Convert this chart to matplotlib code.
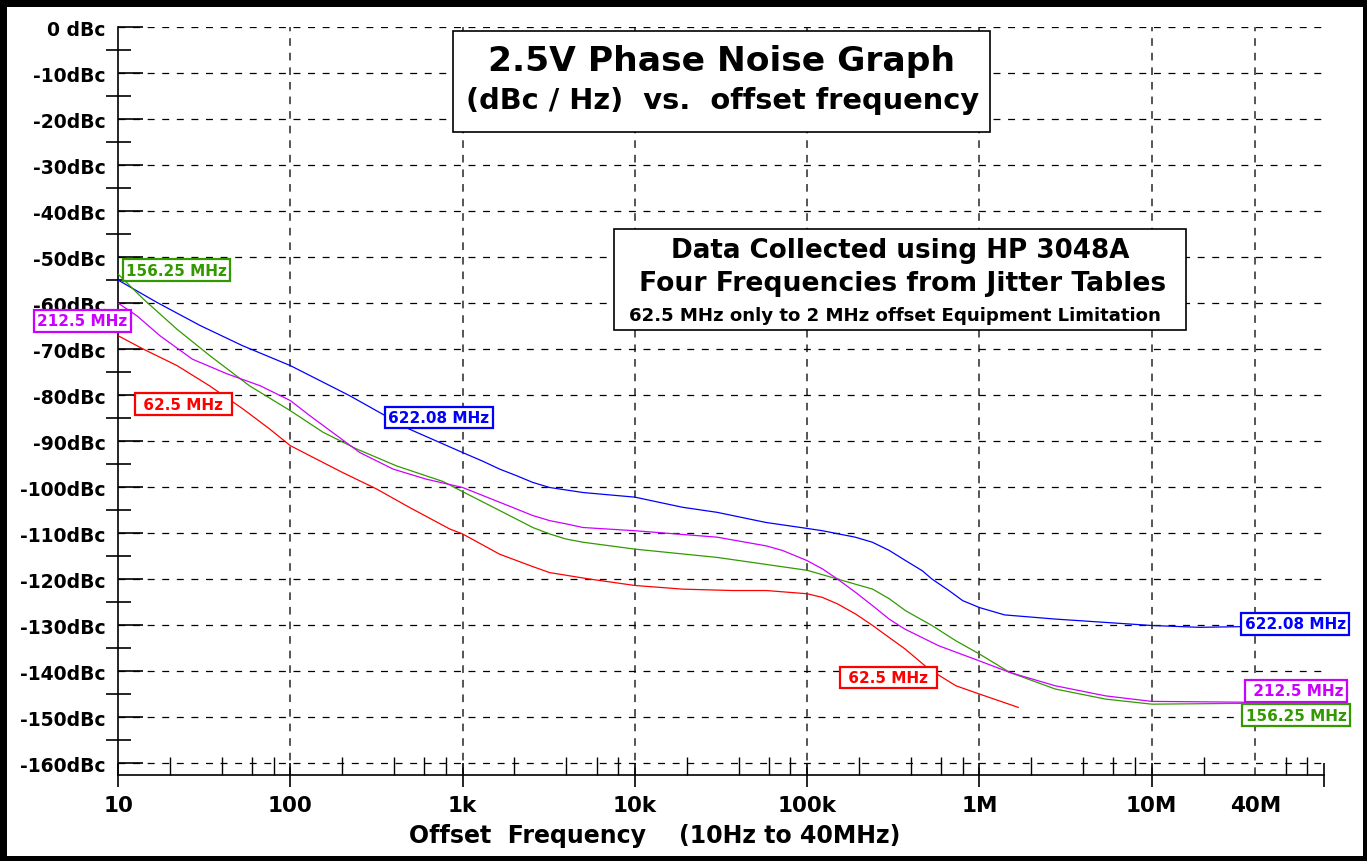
import numpy as np
import matplotlib
matplotlib.use("Agg")
import matplotlib.pyplot as plt
from matplotlib.patches import Rectangle
from matplotlib.ticker import NullFormatter

plt.rcParams['font.family'] = ['DejaVu Sans']
plt.rcParams['lines.scale_dashes'] = False

# =========================================================
# Data
# =========================================================
f_622 = [10, 16.7, 30, 53, 100, 220, 490, 1000, 1312, 1640, 2046, 2556, 3200, 5012, 10000,
         18900, 30000, 57600, 100000, 122700, 190000, 239000, 300000, 373000, 466000, 530000,
         665000, 800000, 1e6, 1.4e6, 2.75e6, 1e7, 1.9e7, 4e7]
db_622 = [-55.0, -59.8, -64.9, -69.3, -73.6, -80.1, -87.4, -92.5, -94.4, -96.1, -97.5, -99.0,
          -100.1, -101.2, -102.2, -104.4, -105.5, -107.7, -109.0, -109.5, -110.9, -112.0, -113.8,
          -116.0, -118.2, -120.0, -122.5, -124.7, -126.2, -127.8, -128.7, -130.1, -130.5, -130.3]

f_62 = [10, 14, 22, 34, 53, 76, 100, 130, 200, 316, 490, 840, 1000, 1640, 2556, 3200, 5450,
        10000, 19000, 37000, 58000, 100000, 122700, 150000, 191000, 240000, 299000, 370000,
        510000, 730000, 1e6, 1.68e6]
db_62 = [-67.1, -70.0, -73.6, -78.0, -83.0, -87.4, -91.0, -93.2, -96.8, -100.4, -104.4, -109.1,
         -110.2, -114.6, -117.3, -118.6, -120.0, -121.4, -122.2, -122.5, -122.5, -123.2, -124.0,
         -125.4, -127.6, -130.1, -132.7, -135.2, -139.6, -143.2, -145.0, -147.9]

f_156 = [10, 14, 22, 34, 58, 100, 155, 242, 413, 770, 1000, 1640, 2556, 3200, 3980, 5000, 10000,
         30000, 100000, 150000, 240000, 300000, 373000, 530000, 728000, 1e6, 1.5e6, 2.75e6,
         5.4e6, 1e7, 4e7]
db_156 = [-53.7, -59.1, -65.7, -71.4, -78.0, -83.4, -88.1, -91.7, -95.4, -98.8, -101.0, -105.1,
          -108.8, -110.2, -111.3, -112.0, -113.5, -115.3, -118.1, -120.0, -122.2, -124.3, -126.9,
          -130.1, -133.4, -136.3, -140.3, -143.9, -146.1, -147.2, -147.0]

f_212 = [10, 12.9, 17.5, 27, 43, 67, 100, 130, 186, 253, 395, 617, 1000, 1640, 2556, 3200, 3980,
         5000, 10000, 30000, 58000, 72000, 100000, 122700, 150000, 191000, 240000, 299000,
         370000, 580000, 1e6, 1.5e6, 2.75e6, 5.4e6, 1e7, 4e7]
db_212 = [-60.0, -62.8, -67.1, -72.2, -75.4, -78.0, -81.2, -84.5, -88.8, -92.5, -96.1, -98.3,
          -100.1, -103.3, -106.2, -107.3, -108.0, -108.8, -109.5, -110.9, -112.8, -113.8, -116.0,
          -117.8, -120.0, -122.9, -125.8, -128.7, -130.9, -134.5, -137.8, -140.3, -143.2, -145.4,
          -146.6, -146.8]

x_major = [10, 100, 1e3, 1e4, 1e5, 1e6, 1e7, 1e8]
x_major_labels = ["10", "100", "1k", "10k", "100k", "1M", "10M", ""]
x_extra = 4e7
x_extra_label = "40M"
x_grid = [100, 1e3, 1e4, 1e5, 1e6, 1e7, 4e7]
y_major = list(range(-160, 1, 10))
y_major_labels = ["0 dBc" if v == 0 else f"{v}dBc" for v in y_major]

C_BLUE = "#0000ff"
C_RED = "#ff0000"
C_GREEN = "#339900"
C_MAG = "#cc00ff"

# =========================================================
# Figure
# =========================================================
W, H = 1367, 862
fig = plt.figure(figsize=(W / 100, H / 100), dpi=100)
fig.patch.set_facecolor("white")


def fx(px):
    return px / W


def fy(py):
    return 1 - py / H


ax = fig.add_axes([fx(118), fy(776), fx(1324) - fx(118), fy(28) - fy(776)])
ax.set_xscale("log")
ax.set_xlim(10, 1e8)
ax.set_ylim(-162.6, 0)

for s in ["top", "right"]:
    ax.spines[s].set_visible(False)
for s in ["left", "bottom"]:
    ax.spines[s].set_linewidth(1.2)

ax.set_yticks(y_major, labels=y_major_labels, fontsize=13.5, fontweight="bold")
ax.set_yticks(list(range(-155, 0, 10)), minor=True)
ax.tick_params(axis="y", which="major", direction="in", length=18, width=1.2, pad=9)
ax.tick_params(axis="y", which="minor", direction="inout", length=18, width=1.2)

x_minor = [m * 10 ** k for k in range(1, 8) for m in (2, 4, 6, 8) if m * 10 ** k != 4e7]
ax.set_xticks(x_major, labels=x_major_labels, fontsize=15.5, fontweight="bold")
ax.set_xticks(x_minor, minor=True)
ax.xaxis.set_minor_formatter(NullFormatter())
ax.tick_params(axis="x", which="major", direction="inout", length=17, width=1.2, pad=6)
ax.tick_params(axis="x", which="minor", direction="in", length=13, width=1.0)

# 40M label sits under its grid line, like the decade labels
ax.annotate(x_extra_label, xy=(x_extra, 0), xycoords=("data", "axes fraction"),
            xytext=(0, -14.5), textcoords="offset points", ha="center", va="top",
            fontsize=15.5, fontweight="bold", annotation_clip=False)

ax.yaxis.grid(True, which="major", color="black", lw=0.9, linestyle=(0, (5, 5.5)))
for g in x_grid:
    ax.axvline(g, color="#555555", lw=1.4, linestyle=(0, (5.5, 5)), zorder=1)

# curves
ax.plot(f_622, db_622, color=C_BLUE, lw=0.9, zorder=3)
ax.plot(f_62, db_62, color=C_RED, lw=0.9, zorder=3)
ax.plot(f_156, db_156, color=C_GREEN, lw=0.9, zorder=3)
ax.plot(f_212, db_212, color=C_MAG, lw=0.9, zorder=3)

# curve labels
labels = [
    (21.8, -52.9, "156.25 MHz", C_GREEN),
    (6.2, -63.9, "212.5 MHz", C_MAG),
    (24, -82.0, " 62.5 MHz ", C_RED),
    (726, -84.9, "622.08 MHz", C_BLUE),
    (2.95e5, -141.4, " 62.5 MHz ", C_RED),
    (6.8e7, -129.7, "622.08 MHz", C_BLUE),
    (6.9e7, -144.3, " 212.5 MHz", C_MAG),
    (6.9e7, -149.6, "156.25 MHz", C_GREEN),
]
for x, y, s, c in labels:
    ax.text(x, y, s, color=c, fontsize=11, fontweight="bold", ha="center", va="center",
            clip_on=False, zorder=6,
            bbox=dict(boxstyle="square,pad=0.22", fc="white", ec=c, lw=1.6))

ax.text(fx(655), fy(836), "Offset  Frequency    (10Hz to 40MHz)", transform=fig.transFigure,
        fontsize=17, fontweight="bold", ha="center", va="center")

# title box
fig.patches.append(Rectangle((fx(453), fy(133)), fx(990) - fx(453), fy(32) - fy(133),
                             transform=fig.transFigure, fc="white", ec="black", lw=1.2, zorder=2))
fig.text(fx(721.5), fy(62), "2.5V Phase Noise Graph", fontsize=24.8, fontweight="bold",
         ha="center", va="center", zorder=3)
fig.text(fx(723), fy(101), "(dBc / Hz)  vs.  offset frequency", fontsize=20.8, fontweight="bold",
         ha="center", va="center", zorder=3)

# info box
fig.patches.append(Rectangle((fx(614), fy(331)), fx(1186) - fx(614), fy(230) - fy(331),
                             transform=fig.transFigure, fc="white", ec="black", lw=1.2, zorder=2))
fig.text(fx(900), fy(251), "Data Collected using HP 3048A", fontsize=18.8, fontweight="bold",
         ha="center", va="center", zorder=3)
fig.text(fx(903), fy(284), "Four Frequencies from Jitter Tables", fontsize=19.2, fontweight="bold",
         ha="center", va="center", zorder=3)
fig.text(fx(895), fy(316), "62.5 MHz only to 2 MHz offset Equipment Limitation", fontsize=13.1,
         fontweight="bold", ha="center", va="center", zorder=3)

# outer frame
for (x0, y0, w, h) in [(0, 0, W, 8), (0, 0, 7, H), (0, H - 5, W, 5), (W - 4, 0, 4, H)]:
    fig.patches.append(Rectangle((fx(x0), fy(y0 + h)), w / W, h / H, transform=fig.transFigure,
                                 fc="black", ec="none", zorder=4))

fig.savefig("out.png", dpi=100)
